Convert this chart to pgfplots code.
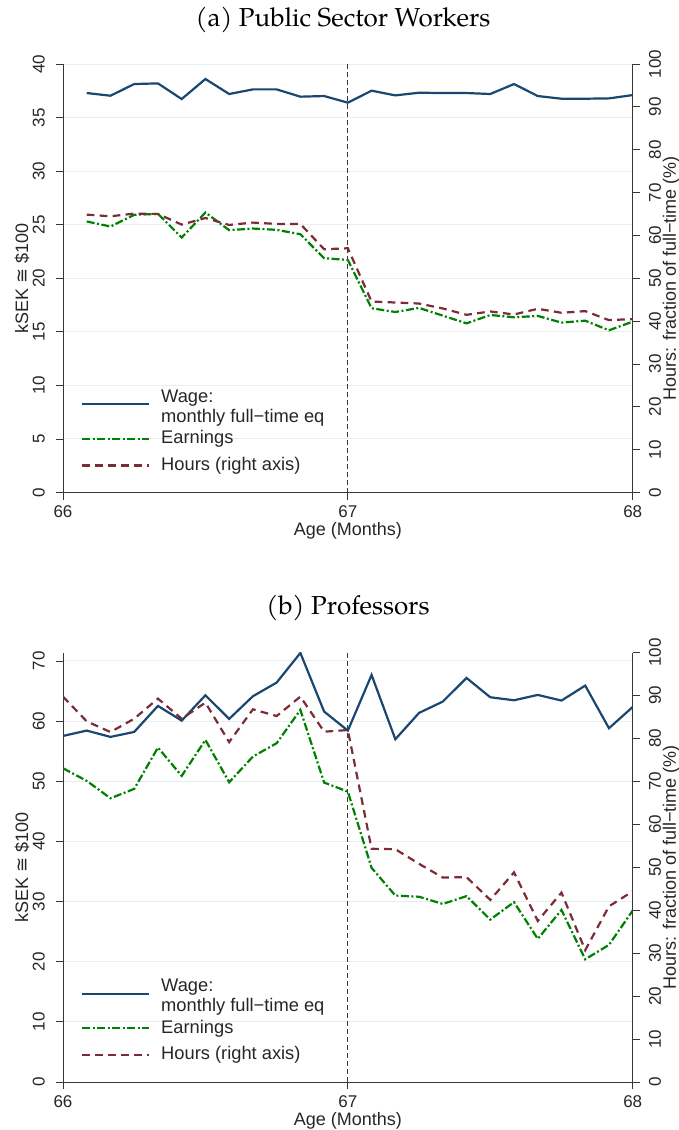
\documentclass[border=0pt]{standalone}
\usepackage{fontspec}
\setmainfont{Liberation Sans}
\newfontfamily\titlefont{TeX Gyre Pagella}
\newfontfamily\dejavu{DejaVu Sans}
\usepackage{pgfplots}
\usepackage{pgfplotstable}
\pgfplotsset{compat=1.18}

\definecolor{wagec}{RGB}{26,71,111}
\definecolor{earnc}{RGB}{0,128,0}
\definecolor{hoursc}{RGB}{122,45,54}
\definecolor{gridc}{RGB}{230,238,241}
\definecolor{axisc}{RGB}{55,55,55}

\pgfplotstableread{
x wage earn hours
66.0833 37.29 25.30 64.85
66.1667 37.04 24.83 64.46
66.25 38.13 25.92 65.09
66.3333 38.19 26.01 65.01
66.4167 36.73 23.80 62.52
66.5 38.60 26.14 64.07
66.5833 37.20 24.49 62.44
66.6667 37.63 24.64 62.99
66.75 37.63 24.52 62.68
66.8333 36.95 24.11 62.68
66.9167 37.01 21.87 56.77
67 36.39 21.71 57.00
67.0833 37.51 17.20 44.57
67.1667 37.07 16.85 44.34
67.25 37.32 17.23 44.10
67.3333 37.29 16.51 42.95
67.4167 37.29 15.79 41.47
67.5 37.20 16.57 42.25
67.5833 38.13 16.36 41.55
67.6667 37.01 16.48 42.87
67.75 36.76 15.86 41.94
67.8333 36.76 16.04 42.33
67.9167 36.79 15.14 40.23
68 37.10 15.95 40.47
}\dataA

\pgfplotstableread{
x wage earn hours
66 57.53 52.16 89.73
66.0833 58.42 50.06 83.97
66.1667 57.37 47.17 81.48
66.25 58.20 48.73 84.59
66.3333 62.52 55.60 89.26
66.4167 60.08 50.89 84.59
66.5 64.29 56.87 88.33
66.5833 60.36 49.83 79.14
66.6667 64.13 54.10 86.77
66.75 66.40 56.32 85.21
66.8333 71.33 61.86 89.73
66.9167 61.58 49.78 81.56
67 58.42 48.28 81.95
67.0833 67.67 35.60 54.30
67.1667 56.98 31.00 54.20
67.25 61.36 30.80 50.80
67.3333 63.24 29.60 47.60
67.4167 67.17 30.90 47.70
67.5 63.96 27.00 42.40
67.5833 63.46 29.90 48.80
67.6667 64.35 23.80 37.50
67.75 63.41 28.60 44.10
67.8333 65.90 20.40 30.70
67.9167 58.81 22.80 40.90
68 62.35 28.50 44.40
}\dataB

\tikzset{
  wagest/.style={draw=wagec, line width=2.2pt, solid},
  earnst/.style={draw=earnc, line width=2.2pt, dash pattern=on 8pt off 2.5pt on 2pt off 2.5pt},
  hoursst/.style={draw=hoursc, line width=2.2pt, dash pattern=on 7.7pt off 5.3pt},
  xlinest/.style={draw=axisc, line width=0.9pt, dash pattern=on 5pt off 3pt},
}
\newcommand\lf{\fontsize{18}{21}\selectfont}
\newcommand\tf{\fontsize{17}{20}\selectfont}
\newcommand\wageentry{\raisebox{0pt}[14.4pt][18.5pt]{\begin{tabular}[t]{@{}l@{}}Wage:\\monthly full−time eq\end{tabular}}}

\pgfplotsset{
  common/.style={
    scale only axis, width=569.7pt, xmin=66, xmax=68,
    tick align=outside, major tick length=7pt,
    every tick/.style={axisc, line width=0.8pt},
    axis line style={-, axisc, line width=0.8pt},
    /pgf/number format/assume math mode=true,
    tick label style={font=\tf, text=black!85},
  },
  leftax/.style={
    common, axis x line*=bottom, axis y line*=left,
    xtick={66,67,68},
    ymajorgrids, grid style={gridc, line width=0.9pt},
    xticklabel style={anchor=north, inner sep=0pt, yshift=-6pt},
    yticklabel style={xshift=-11pt, rotate=90, anchor=south, inner sep=0pt},
    xlabel={Age (Months)},
    every axis x label/.style={at={(axis description cs:0.5,0)}, anchor=center, yshift=-38.5pt, font=\lf, text=black!85},
    ylabel={kSEK {\dejavu ≅} \$100},
    every axis y label/.style={at={(axis description cs:0,0.5)}, xshift=-41pt, rotate=90, anchor=center, font=\lf, text=black!85},
  },
  rightax/.style={
    common, axis x line=none, axis y line*=right,
    ymin=0, ymax=100, ytick={0,10,...,100},
    yticklabel style={xshift=9pt, rotate=90, anchor=north, inner sep=0pt},
    ylabel={Hours: fraction of full−time (\%)},
    every axis y label/.style={at={(axis description cs:1,0.5)}, xshift=38.5pt, rotate=90, anchor=center, font=\lf, text=black!85},
    legend style={at={(axis description cs:0,0)}, anchor=south west, draw=none, fill=none,
      xshift=18pt, yshift=17.5pt, font=\fontsize{18.3}{20}\selectfont, row sep=7.6pt,
      inner sep=0pt, outer sep=0pt,
      nodes={inner xsep=0pt, inner ysep=1pt, text depth={}, text=black!85},
      /tikz/every odd column/.append style={column sep=11pt}},
    legend cell align=left,
    legend image code/.code={\draw[##1] (0pt,0pt) -- (67pt,0pt);},
  },
}

\begin{document}
\begin{tikzpicture}
\path[use as bounding box] (0pt,0pt) rectangle (679pt,-1130pt);

\node[font=\titlefont\fontsize{26}{30}\selectfont, anchor=base] at (343pt,-26pt) {(a) Public Sector Workers};
\node[font=\titlefont\fontsize{26}{30}\selectfont, anchor=base] at (348pt,-614.3pt) {(b) Professors};

% ---------- Panel (a) ----------
\begin{axis}[leftax, at={(63pt,-492.5pt)}, anchor=south west, height=428.5pt,
  ymin=0, ymax=40, ytick={0,5,...,40}]
\addplot[xlinest, forget plot] coordinates {(67,0) (67,40)};
\addplot[wagest] table[x=x, y=wage] {\dataA};
\addplot[earnst] table[x=x, y=earn] {\dataA};
\end{axis}
\begin{axis}[rightax, at={(63pt,-492.5pt)}, anchor=south west, height=428.5pt]
\addlegendimage{draw=wagec, line width=2.2pt, solid}
\addlegendentry{\wageentry}
\addlegendimage{draw=earnc, line width=2.2pt, dash pattern=on 8pt off 2.5pt on 2pt off 2.5pt}
\addlegendentry{Earnings}
\addplot[hoursst] table[x=x, y=hours] {\dataA};
\addlegendentry{Hours (right axis)}
\end{axis}

% ---------- Panel (b) ----------
\begin{axis}[leftax, at={(63pt,-1082pt)}, anchor=south west, height=429.5pt,
  ymin=0, ymax=71.4, ytick={0,10,...,70}]
\addplot[xlinest, forget plot] coordinates {(67,0) (67,71.4)};
\addplot[wagest] table[x=x, y=wage] {\dataB};
\addplot[earnst] table[x=x, y=earn] {\dataB};
\end{axis}
\begin{axis}[rightax, at={(63pt,-1082pt)}, anchor=south west, height=429.5pt]
\addlegendimage{draw=wagec, line width=2.2pt, solid}
\addlegendentry{\wageentry}
\addlegendimage{draw=earnc, line width=2.2pt, dash pattern=on 8pt off 2.5pt on 2pt off 2.5pt}
\addlegendentry{Earnings}
\addplot[hoursst] table[x=x, y=hours] {\dataB};
\addlegendentry{Hours (right axis)}
\end{axis}
\end{tikzpicture}
\end{document}
